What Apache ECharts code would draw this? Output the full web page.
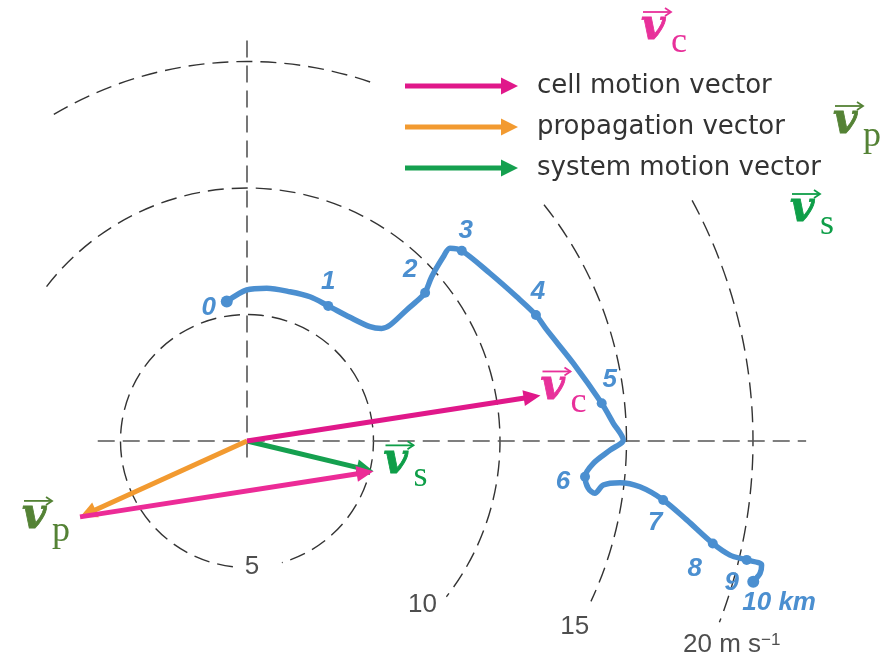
<!DOCTYPE html>
<html>
<head>
<meta charset="utf-8">
<script src="https://cdn.jsdelivr.net/npm/echarts@6/dist/echarts.min.js"></script>
<style>
  html, body { margin: 0; padding: 0; background: #fff; }
  #main { width: 887px; height: 662px; }
</style>
</head>
<body>
<div id="main"></div>
<script>
// ---- hodograph trace: wind components (u, v) in m/s from the surface to 10 km ----
const traceU = [-0.80, -0.01, 0.78, 1.70, 2.49, 3.21, 4.07, 4.86, 5.32, 5.65, 6.31,
  6.84, 7.04, 7.30, 7.76, 8.02, 8.49, 9.60, 10.66, 11.42, 11.85, 12.90, 14.02, 14.48,
  14.87, 14.35, 13.69, 13.36, 13.49, 13.75, 14.08, 14.74, 15.53, 16.45, 17.38, 18.41,
  19.09, 19.75, 20.34, 20.28, 20.01];
const traceV = [5.51, 5.97, 6.04, 5.90, 5.70, 5.34, 4.89, 4.52, 4.45, 4.58, 5.18,
  5.64, 5.86, 6.49, 7.28, 7.62, 7.52, 6.63, 5.70, 4.98, 4.39, 3.07, 1.49, 0.70,
  0.04, -0.36, -0.88, -1.41, -1.87, -2.07, -1.74, -1.65, -1.81, -2.33, -3.12, -4.05,
  -4.51, -4.70, -4.90, -5.23, -5.56];
// trace points that mark each height level, and their names
const levelIndex = [0, 5, 12, 16, 19, 22, 27, 33, 35, 37, 40];
const levelNames = ['0', '1', '2', '3', '4', '5', '6', '7', '8', '9', '10 km'];

// ---- storm motion vectors (m/s) ----
const cellMotion = [11.6, 1.8];
const propagation = [-6.6, -3.0];
const systemMotion = [cellMotion[0] + propagation[0], cellMotion[1] + propagation[1]];
const vectorNames = ['cell motion vector', 'propagation vector', 'system motion vector'];

// ---- speed rings (m/s) and their labels ----
const ringSpeeds = [5, 10, 15, 20];
const ringLabels = ['5', '10', '15', '20 m s{sup|\u22121}'];

// ---------------- layout / styling ----------------
const PX_PER_MS = 25.3;             // pixels per m/s on both axes
const ORIGIN = [247, 441];          // pixel position of the hodograph origin
const W = 887, H = 662;

// visible part of each ring: [speed, start deg, end deg] (counter-clockwise from east)
const ringArcs = [
  [ringSpeeds[0], -74, 263.6],
  [ringSpeeds[1], -38, 142.4],
  [ringSpeeds[2], 71, 120.6],
  [ringSpeeds[2], -25, 38.5],
  [ringSpeeds[3], -21, 28.4]
];
// ring label anchor: [radius in m/s, angle deg, align]
const ringLabelAt = [[4.98, -87.7, 'center'], [9.5, -43.1, 'center'], [14.9, -29.6, 'center'], [19.03, -25.1, 'left']];
// dashed reference axes (extent in m/s)
const hAxisExtent = [-5.9, 22.1];
const vAxisExtent = [-0.65, 16.05];

// pixel offsets of height labels from their dots
const levelLabelShift = [[-18, 6], [0, -24], [-15, -23], [4, -20], [2, -23], [8, -23],
  [-22, 5], [-8, 23], [-18, 25], [-15, 23], [-11, 21]];

const TRACE_COLOR = '#4b8fd0';
const COL_CELL = '#e0188a', COL_CELL2 = '#ec2b97', COL_PROP = '#f29a30', COL_SYS = '#15a04f';
const MATH_C = '#e8309a', MATH_P = '#548235', MATH_S = '#0e9e48';

const V_FONT = 42, SUB_FONT = 36;

// v with an arrow on top and a subscript; (vx, vb) = left edge / baseline of the v
function mathVec(vx, vb, sub, color) {
  const ay = vb - 31;
  return [
    { type: 'text', style: { x: vx, y: vb - 0.346 * V_FONT, text: 'v', fill: color,
      stroke: color, lineWidth: 0.8,
      font: 'italic bold ' + V_FONT + 'px "DejaVu Serif"', align: 'left', verticalAlign: 'middle' } },
    { type: 'text', style: { x: vx + 30, y: vb + 12 - 0.34 * SUB_FONT, text: sub, fill: color,
      font: SUB_FONT + 'px "Liberation Serif"', align: 'left', verticalAlign: 'middle' } },
    { type: 'polyline', shape: { points: [[vx + 2, ay], [vx + 30, ay]] },
      style: { stroke: color, lineWidth: 1.8, fill: null } },
    { type: 'polyline', shape: { points: [[vx + 24, ay - 4], [vx + 30, ay], [vx + 24, ay + 4]] },
      style: { stroke: color, lineWidth: 1.8, fill: null } }
  ];
}

const xMin = -ORIGIN[0] / PX_PER_MS, xMax = (W - ORIGIN[0]) / PX_PER_MS;
const yMin = -(H - ORIGIN[1]) / PX_PER_MS, yMax = ORIGIN[1] / PX_PER_MS;

const chart = echarts.init(document.getElementById('main'), null, { renderer: 'canvas' });

const vectorTags = [
  { sub: 'c', color: MATH_C, shift: [0, 7] },
  { sub: 'p', color: MATH_P, shift: [-58, 15] },
  { sub: 's', color: MATH_S, shift: [10, 5] }
];

// arrow drawn from (x0, y0) to (x1, y1) in data units
function renderArrow(params, api) {
  const p0 = api.coord([api.value(0), api.value(1)]);
  const p1 = api.coord([api.value(2), api.value(3)]);
  const color = api.visual('color');
  const dx = p1[0] - p0[0], dy = p1[1] - p0[1];
  const len = Math.hypot(dx, dy);
  const ux = dx / len, uy = dy / len, nx = -uy, ny = ux;
  const headLen = 17, headHalf = 8;
  const bx = p1[0] - ux * headLen, by = p1[1] - uy * headLen;
  const children = [
    { type: 'line', shape: { x1: p0[0], y1: p0[1], x2: bx + ux, y2: by + uy },
      style: { stroke: color, lineWidth: 5 } },
    { type: 'polygon', shape: { points: [[p1[0], p1[1]], [bx + nx * headHalf, by + ny * headHalf], [bx - nx * headHalf, by - ny * headHalf]] },
      style: { fill: color } }
  ];
  const tag = api.value(4);
  if (tag >= 0) {
    const t = vectorTags[tag];
    children.push(...mathVec(p1[0] + t.shift[0], p1[1] + t.shift[1], t.sub, t.color));
  }
  return { type: 'group', children };
}

const traceData = traceU.map((u, i) => [u, traceV[i]]);
const levelData = levelIndex.map((idx, k) => ({
  value: [traceU[idx], traceV[idx]],
  symbolSize: (k === 0 || k === levelIndex.length - 1) ? 12 : 10,
  label: {
    formatter: levelNames[k],
    offset: levelLabelShift[k],
    align: k === levelIndex.length - 1 ? 'left' : 'center'
  }
}));

const ringLabelData = ringLabels.map((txt, i) => {
  const [r, a, al] = ringLabelAt[i];
  const rad = a * Math.PI / 180;
  return { value: [r * Math.cos(rad), r * Math.sin(rad)], label: { formatter: txt, align: al } };
});

const dashAxis = { color: '#555', width: 1.6, type: [17, 8] };

chart.setOption({
  animation: false,
  backgroundColor: '#fff',
  grid: { left: 0, top: 0, width: W, height: H },
  xAxis: { type: 'value', min: xMin, max: xMax, show: false },
  yAxis: { type: 'value', min: yMin, max: yMax, show: false },
  legend: {
    orient: 'vertical', left: 405, top: 73, padding: 0,
    itemWidth: 113, itemHeight: 17, itemGap: 15,
    icon: 'path://M0,6 L96,6 L96,0 L113,8.5 L96,17 L96,11 L0,11 Z',
    symbolKeepAspect: false,
    selectedMode: false,
    itemStyle: { borderWidth: 0 },
    textStyle: { fontSize: 26, color: '#333', fontFamily: '"DejaVu Sans"', padding: [0, 0, 0, 14] },
    data: vectorNames
  },
  series: [
    {
      type: 'custom', name: 'rings', clip: false, silent: true, z: 1,
      data: ringArcs,
      renderItem: (params, api) => {
        const c = api.coord([0, 0]);
        const r = api.size([api.value(0), 0])[0];
        const a0 = api.value(1) * Math.PI / 180, a1 = api.value(2) * Math.PI / 180;
        return { type: 'arc', shape: { cx: c[0], cy: c[1], r, startAngle: -a1, endAngle: -a0, clockwise: true },
          style: { stroke: '#333', lineWidth: 1.4, lineDash: [16, 8], fill: null } };
      }
    },
    {
      type: 'line', name: 'u axis', silent: true, symbol: 'none', z: 1,
      data: [[hAxisExtent[0], 0], [hAxisExtent[1], 0]], lineStyle: dashAxis
    },
    {
      type: 'line', name: 'v axis', silent: true, symbol: 'none', z: 1,
      data: [[0, vAxisExtent[0]], [0, vAxisExtent[1]]], lineStyle: dashAxis
    },
    {
      type: 'scatter', name: 'ring labels', silent: true, symbolSize: 0, z: 2,
      data: ringLabelData,
      label: {
        show: true, position: 'inside', color: '#222', fontSize: 26,
        fontFamily: '"Liberation Sans", Arial',
        rich: { sup: { fontSize: 17, color: '#222', verticalAlign: 'top', lineHeight: 16, fontFamily: '"Liberation Sans", Arial' } }
      }
    },
    {
      type: 'line', name: 'hodograph', silent: true, symbol: 'none', smooth: 0.3, z: 3,
      data: traceData, lineStyle: { color: TRACE_COLOR, width: 5.5 }
    },
    {
      type: 'scatter', name: 'levels', silent: true, z: 4,
      itemStyle: { color: TRACE_COLOR, opacity: 1 },
      data: levelData,
      label: {
        show: true, position: 'inside', color: TRACE_COLOR, fontSize: 26,
        fontStyle: 'italic', fontWeight: 'bold', fontFamily: '"Liberation Sans", Arial'
      }
    },
    {
      type: 'custom', name: vectorNames[2], clip: false, z: 5,
      itemStyle: { color: COL_SYS },
      data: [[0, 0, systemMotion[0], systemMotion[1], 2]],
      renderItem: renderArrow
    },
    {
      type: 'custom', name: vectorNames[1], clip: false, z: 5,
      itemStyle: { color: COL_PROP },
      data: [[0, 0, propagation[0], propagation[1], 1]],
      renderItem: renderArrow
    },
    {
      type: 'custom', name: vectorNames[0], clip: false, z: 6,
      itemStyle: { color: COL_CELL },
      data: [
        [0, 0, cellMotion[0], cellMotion[1], 0],
        { value: [propagation[0], propagation[1], systemMotion[0], systemMotion[1], -1], itemStyle: { color: COL_CELL2 } }
      ],
      renderItem: renderArrow
    }
  ],
  graphic: [
    { type: 'group', silent: true, children: mathVec(641, 43, 'c', MATH_C) },
    { type: 'group', silent: true, children: mathVec(833, 137, 'p', MATH_P) },
    { type: 'group', silent: true, children: mathVec(790, 225, 's', MATH_S) }
  ]
});
</script>
</body>
</html>
